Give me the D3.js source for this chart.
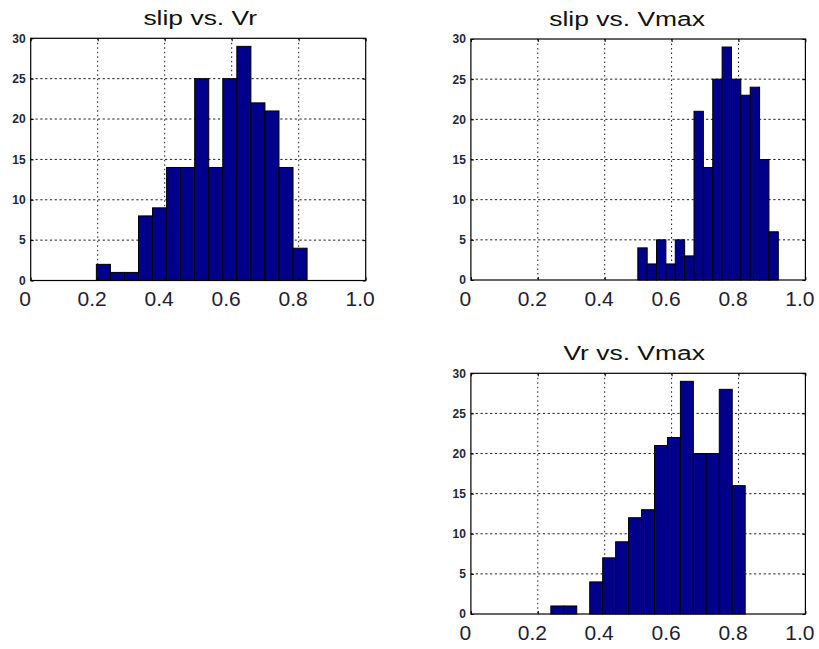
<!DOCTYPE html>
<html>
<head>
<meta charset="utf-8">
<script src="https://cdn.jsdelivr.net/npm/d3@7"></script>
<style>
  html, body { margin: 0; padding: 0; background: #ffffff; }
  svg { display: block; }
  .ylab text { font-family: "Liberation Sans", Arial, Helvetica, sans-serif; font-weight: bold; font-size: 12px; fill: #23263a; }
  .xlab text { font-family: "Liberation Sans", Arial, Helvetica, sans-serif; font-size: 21px; fill: #1e2030; }
  .title { font-family: "Liberation Sans", Arial, Helvetica, sans-serif; font-size: 21px; fill: #111; }
</style>
</head>
<body>
<svg id="fig" width="819" height="649"></svg>
<script>
// Shared axis ticks
const xTickValues = [0, 0.2, 0.4, 0.6, 0.8, 1.0];
const xTickLabels = ["0", "0.2", "0.4", "0.6", "0.8", "1.0"];
const yTickValues = [0, 5, 10, 15, 20, 25, 30];
const xGridValues = [0.2, 0.4, 0.6, 0.8];
const yGridValues = [5, 10, 15, 20, 25];

// slip vs. Vr: histogram counts and the value range covered by its bins
const slipVrCounts = [2, 1, 1, 8, 9, 14, 14, 25, 14, 25, 29, 22, 21, 14, 4];
const slipVrRange = [0.196, 0.825];

// slip vs. Vmax
const slipVmaxCounts = [4, 2, 5, 2, 5, 3, 21, 14, 25, 29, 25, 23, 24, 15, 6];
const slipVmaxRange = [0.499, 0.919];

// Vr vs. Vmax
const vrVmaxCounts = [1, 1, 0, 4, 7, 9, 12, 13, 21, 22, 29, 20, 20, 28, 16];
const vrVmaxRange = [0.239, 0.820];

// Panel placement on the page
const panels = [
  { title: "slip vs. Vr",   counts: slipVrCounts,   range: slipVrRange,
    left: 30.7, top: 38.3, width: 335, height: 242.2, titleDx: 2 },
  { title: "slip vs. Vmax", counts: slipVmaxCounts, range: slipVmaxRange,
    left: 470.9, top: 39, width: 334.5, height: 241, titleDx: -11 },
  { title: "Vr vs. Vmax",   counts: vrVmaxCounts,   range: vrVmaxRange,
    left: 470.9, top: 373.3, width: 334.5, height: 240.7, titleDx: -4 }
];

const svg = d3.select("#fig");
const barFill = "#00008a";

panels.forEach(p => {
  const g = svg.append("g").attr("transform", `translate(${p.left},${p.top})`);
  const x = d3.scaleLinear().domain([0, 1]).range([0, p.width]);
  const y = d3.scaleLinear().domain([0, 30]).range([p.height, 0]);

  // bins split the range evenly, one per count
  const n = p.counts.length;
  const edges = d3.range(n + 1).map(i => p.range[0] + (p.range[1] - p.range[0]) * i / n);
  const bins = p.counts.map((c, i) => ({ x0: edges[i], x1: edges[i + 1], count: c }));

  // dotted grid
  g.append("g").selectAll("line").data(xGridValues).join("line")
    .attr("x1", d => x(d)).attr("x2", d => x(d))
    .attr("y1", 0).attr("y2", p.height)
    .attr("stroke", "#1a1a1a").attr("stroke-width", 1)
    .attr("stroke-dasharray", "1.5,3");
  g.append("g").selectAll("line").data(yGridValues).join("line")
    .attr("x1", 0).attr("x2", p.width)
    .attr("y1", d => y(d)).attr("y2", d => y(d))
    .attr("stroke", "#1a1a1a").attr("stroke-width", 1)
    .attr("stroke-dasharray", "2.2,2.6");

  // histogram bars
  g.append("g").selectAll("rect").data(bins.filter(b => b.count > 0)).join("rect")
    .attr("x", d => x(d.x0))
    .attr("y", d => y(d.count))
    .attr("width", d => x(d.x1) - x(d.x0))
    .attr("height", d => y(0) - y(d.count))
    .attr("fill", barFill)
    .attr("stroke", "#000")
    .attr("stroke-width", 1);

  // inward ticks on all four sides
  const tickStyle = sel => {
    sel.select(".domain").remove();
    sel.selectAll(".tick line").attr("stroke", "#000");
  };
  g.append("g").attr("class", "ylab")
    .call(d3.axisLeft(y).tickValues(yTickValues).tickSize(-3).tickPadding(5))
    .call(tickStyle);
  g.append("g").attr("transform", `translate(${p.width},0)`)
    .call(d3.axisRight(y).tickValues(yTickValues).tickSize(-3).tickFormat(""))
    .call(tickStyle);
  g.append("g").attr("class", "xlab").attr("transform", `translate(0,${p.height})`)
    .call(d3.axisBottom(x).tickValues(xTickValues).tickSize(-3).tickPadding(11)
      .tickFormat((d, i) => xTickLabels[i]))
    .call(tickStyle)
    .call(sel => sel.selectAll(".tick text").attr("dx", -6));
  g.append("g")
    .call(d3.axisTop(x).tickValues(xTickValues).tickSize(-3).tickFormat(""))
    .call(tickStyle);

  // plot frame
  g.append("rect")
    .attr("x", 0).attr("y", 0).attr("width", p.width).attr("height", p.height)
    .attr("fill", "none").attr("stroke", "#000").attr("stroke-width", 1.2);

  // title, set in a slightly widened face
  g.append("text").attr("class", "title")
    .attr("text-anchor", "middle")
    .attr("transform", `translate(${p.width / 2 + p.titleDx},-13) scale(1.26,1)`)
    .text(p.title);
});
</script>
</body>
</html>
